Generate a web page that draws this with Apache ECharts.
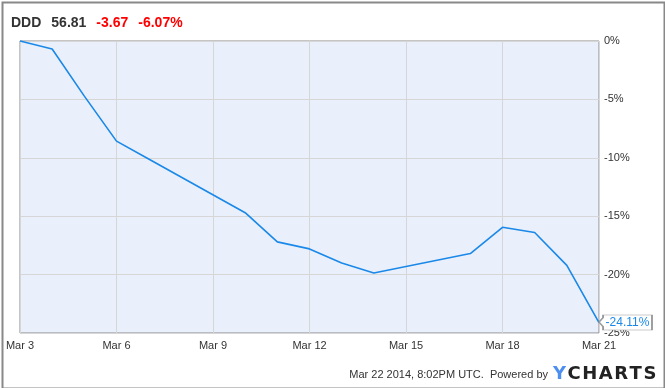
<!DOCTYPE html>
<html>
<head>
<meta charset="utf-8">
<script src="https://cdn.jsdelivr.net/npm/echarts@6/dist/echarts.min.js"></script>
<style>html,body{margin:0;padding:0;background:#fff}#c{width:665px;height:388px}</style>
</head>
<body>
<div id="c"></div>
<script>
// Data (day of March 2014, % change since Mar 3)
const days = [3, 4, 5, 6, 7, 10, 11, 12, 13, 14, 17, 18, 19, 20, 21];
const pctChange = [0, -0.69, -4.72, -8.57, -10.1, -14.7, -17.2, -17.8, -19.0, -19.86, -18.2, -15.95, -16.4, -19.21, -24.11];
const xTicks = [3, 6, 9, 12, 15, 18, 21];
const yTicks = [0, -5, -10, -15, -20, -25];
const ticker = 'DDD', price = '56.81', change = '-3.67', changePct = '-6.07%';
const footerText = 'Mar 22 2014, 8:02PM UTC.  Powered by';

const lastIdx = days.length - 1;
const chart = echarts.init(document.getElementById('c'), null, {renderer: 'canvas'});
const font = '"Liberation Sans", Arial, sans-serif';

chart.setOption({
  animation: false,
  backgroundColor: '#fff',
  textStyle: {fontFamily: font},
  title: {
    left: 11, top: 14, padding: 0,
    text: `{a|${ticker}}  {a|${price}}  {r|${change}}  {r|${changePct}}`,
    textStyle: {
      rich: {
        a: {fontFamily: font, fontSize: 14, fontWeight: 'bold', color: '#333'},
        r: {fontFamily: font, fontSize: 14, fontWeight: 'bold', color: '#ff0000'}
      }
    }
  },
  grid: {
    left: 20, right: 66, top: 41, bottom: 55,
    show: true, backgroundColor: '#e9f0fb', borderColor: '#8a8a8a', borderWidth: 1
  },
  xAxis: {
    type: 'value', min: xTicks[0], max: xTicks[xTicks.length - 1], interval: 3,
    axisLine: {show: false}, axisTick: {show: false},
    axisLabel: {formatter: v => 'Mar ' + v, color: '#333', fontSize: 11, margin: 7, fontFamily: font},
    splitLine: {lineStyle: {color: '#d6d6d6', width: 1}}
  },
  yAxis: {
    type: 'value', position: 'right', min: yTicks[yTicks.length - 1], max: yTicks[0], interval: 5,
    axisLine: {show: false}, axisTick: {show: false},
    axisLabel: {formatter: '{value}%', color: '#333', fontSize: 11, margin: 5, fontFamily: font},
    splitLine: {lineStyle: {color: '#d6d6d6', width: 1}}
  },
  series: [{
    type: 'line',
    data: days.map((d, i) => [d, pctChange[i]]),
    symbol: 'none',
    lineStyle: {color: '#1a88e8', width: 1.6},
    clip: false,
    markPoint: {
      symbol: 'path://M0,7 L4,2.5 L4,0 L52,0 L52,15 L4,15 L4,11.5 Z',
      symbolSize: [53, 15],
      symbolOffset: ['50%', 0],
      silent: true,
      z: 10,
      itemStyle: {color: '#fff', borderColor: '#999', borderWidth: 1},
      label: {
        show: true, position: 'inside', offset: [2, 0],
        formatter: pctChange[lastIdx].toFixed(2) + '%',
        color: '#1a88e8', fontSize: 12, fontFamily: font
      },
      data: [{coord: [days[lastIdx], pctChange[lastIdx]]}]
    }
  }],
  graphic: [
    {type: 'rect', left: 0, top: 0, z: 100, silent: true,
     shape: {x: 0, y: 0, width: 662, height: 386},
     style: {fill: 'none', stroke: '#888', lineWidth: 2}},
    {type: 'text', right: 117, top: 369, z: 100,
     style: {text: footerText, fill: '#333', font: '11px ' + font}},
    {type: 'text', left: 553, top: 365, z: 100,
     style: {
       text: '{y|Y}{c|C}{c|H}{c|A}{c|R}{c|T}{c|S}',
       rich: {
         y: {fill: '#4d8ff0', font: 'bold 18px "DejaVu Sans", sans-serif', padding: [0, 1.5, 0, 0]},
         c: {fill: '#222', font: 'bold 18px "DejaVu Sans", sans-serif', padding: [0, 1.5, 0, 0]}
       }
     }}
  ]
});
</script>
</body>
</html>
